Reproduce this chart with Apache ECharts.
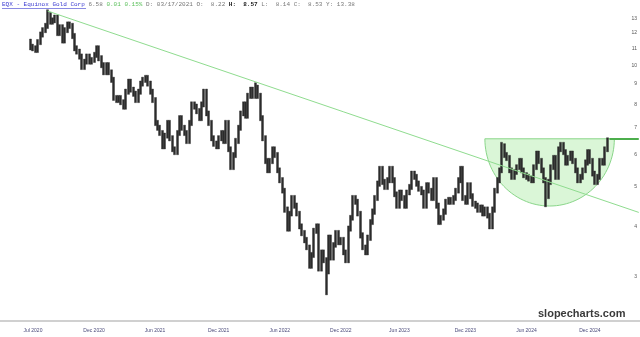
<!DOCTYPE html>
<html><head><meta charset="utf-8">
<script src="https://cdn.jsdelivr.net/npm/echarts@6/dist/echarts.min.js"></script>
<style>html,body{margin:0;padding:0;background:#fff}#c{width:640px;height:337px}</style>
</head><body><div id="c"></div>
<script>
// weekly price ranges (low / high), EQX, from the first week of Jul 2020
const weekLows = [
10.9,10.84,10.74,10.74,11.23,11.72,12.02,12.31,12.61,12.61,
12.71,11.82,11.82,11.33,11.33,12.02,12.31,11.62,10.84,10.64,
10.34,9.75,9.75,10.05,10.05,10.05,10.15,10.44,10.24,9.85,
9.46,9.46,9.46,9.06,8.18,8.08,8.08,7.98,7.78,7.78,
8.47,8.57,8.37,8.08,8.08,8.47,8.87,9.06,8.87,8.47,
8.08,7.09,6.9,6.7,6.21,6.21,6.6,6.5,6.11,6.01,
6.01,6.7,6.9,6.7,6.4,6.4,7.09,7.78,7.58,7.29,
7.29,7.88,7.49,7.09,6.5,6.3,6.21,6.21,6.5,6.4,
6.4,6.11,5.52,5.52,5.91,6.4,6.9,7.49,7.39,7.39,
8.27,8.27,8.27,8.27,7.29,6.5,5.71,5.42,5.42,5.71,
5.91,5.42,5.12,4.83,4.33,3.89,3.89,4.24,4.43,4.24,
3.94,3.79,3.64,3.5,3.15,3.15,3.35,3.84,3.1,3.1,
3.25,2.71,3.05,3.3,3.3,3.55,3.6,3.6,3.4,3.25,
3.25,3.89,4.14,4.53,4.24,3.74,3.5,3.4,3.4,3.69,
4.04,4.28,4.63,5.02,5.07,4.93,4.93,5.12,5.12,4.73,
4.43,4.43,4.63,4.43,4.43,4.78,4.93,5.22,5.02,4.88,
4.78,4.43,4.43,4.83,4.63,4.63,4.43,4.04,4.04,4.14,
4.28,4.53,4.53,4.53,4.63,4.83,5.12,4.63,4.53,4.53,
4.68,4.48,4.43,4.33,4.33,4.24,4.24,4.19,3.94,3.94,
4.33,4.83,5.12,5.42,5.91,5.81,5.42,5.22,5.22,5.37,
5.52,5.42,5.27,5.22,5.17,5.12,5.12,5.52,5.71,5.42,
5.12,4.47,4.68,5.07,5.52,5.22,5.22,6.11,6.01,5.66,
5.66,5.81,5.71,5.42,5.12,5.12,5.22,5.42,5.66,5.71,
5.32,5.07,5.07,5.22,5.66,5.66,6.11
];
const weekHighs = [
11.6,11.27,11.17,11.57,12.08,12.38,12.69,13.7,13.5,13.09,
13.3,13.3,12.59,12.59,12.38,12.79,12.79,12.69,11.98,11.17,
10.96,10.66,10.35,10.66,10.66,10.45,10.76,11.17,11.17,10.56,
10.15,10.15,10.15,9.74,9.34,8.42,8.42,8.42,8.22,8.73,
9.24,9.24,8.83,8.63,8.73,9.14,9.34,9.44,9.44,9.14,
8.73,8.32,7.31,7.11,6.9,6.8,7.31,7.31,6.7,6.29,
6.9,7.51,7.51,7.11,6.9,7.31,8.12,8.12,8.02,7.82,
8.12,8.73,8.73,7.71,7.31,6.7,6.5,6.7,6.9,6.9,
7.31,7.31,6.29,6.09,6.6,7.11,7.71,8.12,8.12,8.53,
8.83,8.83,9.05,8.93,8.53,7.51,6.7,5.89,5.89,6.29,
6.29,6.09,5.58,5.28,4.97,4.47,4.36,4.77,4.77,4.57,
4.36,4.06,3.91,3.76,3.6,3.45,3.96,4.06,4.06,3.5,
3.5,3.35,3.81,3.81,3.65,3.91,3.91,3.76,3.76,3.5,
4.01,4.26,4.77,4.77,4.67,4.36,3.86,3.6,3.81,4.16,
4.42,4.77,5.18,5.63,5.63,5.23,5.28,5.63,5.63,5.28,
4.87,4.92,4.92,4.77,4.92,5.08,5.48,5.48,5.38,5.18,
5.02,4.92,5.13,5.13,4.97,5.28,5.28,4.57,4.26,4.42,
4.67,4.72,4.72,4.77,4.97,5.28,5.63,5.63,4.77,5.13,
5.13,4.82,4.62,4.57,4.52,4.52,4.47,4.47,4.31,4.47,
4.97,5.28,5.58,6.45,6.4,6.09,5.99,5.58,5.53,5.68,
5.89,5.89,5.58,5.43,5.38,5.33,5.68,6.14,6.14,5.89,
5.58,5.28,5.23,5.68,5.99,5.99,6.29,6.45,6.45,6.19,
5.99,6.14,6.14,5.89,5.58,5.38,5.58,5.84,6.19,6.19,
5.89,5.48,5.38,5.89,5.89,6.29,6.62
];
const yTickValues = [3,4,5,6,7,8,9,10,11,12,13];
const xTickLabels = ['Jul 2020','Dec 2020','Jun 2021','Dec 2021','Jun 2022','Dec 2022','Jun 2023','Dec 2023','Jun 2024','Dec 2024'];
const xTickWeeks = [1,26,51,77,102,127,151,178,203,229];   // week number (from data start) of each label
// annotations (week number, price)
const trendWeeks = [7, 249];
const trendPrices = [13.6, 4.33];
const resistanceWeeks = [237, 249];
const resistancePrice = 6.58;
const cupWeeks = [186, 239];
const cupPrices = [6.58, 4.49];

const padBefore = 12, padAfter = 13;
const nWeeks = weekLows.length;
const total = padBefore + nWeeks + padAfter;
const firstWeek = new Date(Date.UTC(2020, 5, 29));
const cats = [];
for (let i = 0; i < total; i++) {
  const d = new Date(firstWeek.getTime() + (i - padBefore) * 7 * 86400000);
  cats.push(d.toISOString().slice(0, 10));
}
const wk = j => cats[j + padBefore];
const candles = cats.map((c, i) => {
  const j = i - padBefore;
  if (j < 0 || j >= nWeeks) return '-';
  return [weekLows[j], weekHighs[j], weekLows[j], weekHighs[j]];
});
const tickIdx = {};
xTickWeeks.forEach((w, k) => { tickIdx[w + padBefore] = xTickLabels[k]; });

const chart = echarts.init(document.getElementById('c'), null, {renderer: 'canvas'});
chart.setOption({
  animation: false,
  backgroundColor: '#fff',
  grid: {left: 0, right: 0, top: 0, bottom: 16, containLabel: false},
  xAxis: {
    type: 'category', data: cats, boundaryGap: true,
    axisLine: {show: true, lineStyle: {color: '#d0d0d0', width: 2}},
    axisTick: {show: false}, splitLine: {show: false},
    axisLabel: {
      interval: (i) => tickIdx[i] !== undefined,
      formatter: (v, i) => tickIdx[i] || '',
      fontSize: 5, color: '#4a4a7a', margin: 7, fontFamily: 'Liberation Sans'
    }
  },
  yAxis: {
    type: 'log', logBase: 10, min: 2.336, max: 14.48, position: 'right',
    axisLine: {show: false}, axisTick: {show: false}, splitLine: {show: false},
    axisLabel: {inside: true, customValues: yTickValues, fontSize: 5, color: '#555', margin: 3,
      formatter: v => String(Math.round(v)), fontFamily: 'Liberation Sans'}
  },
  series: [
    {
      type: 'custom', z: 1, silent: true,
      data: [[cupWeeks[0] + padBefore, cupWeeks[1] + padBefore, cupPrices[0], cupPrices[1]]],
      encode: {x: [0, 1], y: [2, 3]},
      renderItem: (params, api) => {
        const p1 = api.coord([api.value(0), api.value(2)]);
        const p2 = api.coord([api.value(1), api.value(3)]);
        const cx = (p1[0] + p2[0]) / 2, rx = (p2[0] - p1[0]) / 2, ry = p2[1] - p1[1];
        const pts = [];
        for (let k = 0; k <= 60; k++) {
          const t = Math.PI * k / 60;
          pts.push([cx + rx * Math.cos(t), p1[1] + ry * Math.sin(t)]);
        }
        return {type: 'polygon', shape: {points: pts},
          style: {fill: 'rgba(150,230,140,0.35)', stroke: '#8ad68a', lineWidth: 1}};
      }
    },
    {
      type: 'candlestick', z: 2, barWidth: 2.5, silent: true,
      data: candles,
      itemStyle: {color: '#2b2b2b', color0: '#2b2b2b', borderColor: '#2b2b2b', borderColor0: '#2b2b2b', borderWidth: 0.4},
      markLine: {
        silent: true, symbol: 'none', animation: false, label: {show: false},
        data: [
          [{coord: [wk(trendWeeks[0]), trendPrices[0]], lineStyle: {color: '#8fdc8f', width: 1, type: 'solid'}},
           {coord: [wk(trendWeeks[1]), trendPrices[1]]}],
          [{coord: [wk(resistanceWeeks[0]), resistancePrice], lineStyle: {color: '#4cae4c', width: 2, type: 'solid'}},
           {coord: [wk(resistanceWeeks[1]), resistancePrice]}]
        ]
      }
    }
  ],
  graphic: [
    {type: 'text', left: 2, top: 1, z: 10, style: {
      text: '{a|EQX - Equinox Gold Corp} {b|6.58} {g|0.01 0.15%} {b|D: 03/17/2021 O:  8.22} {k|H:  8.57} {b|L:  8.14 C:  8.53 Y: 13.38}',
      fontFamily: 'Liberation Mono', fontSize: 6,
      rich: {
        a: {fill: '#3a3ad0', fontFamily: 'Liberation Mono', fontSize: 6},
        b: {fill: '#777', fontFamily: 'Liberation Mono', fontSize: 6},
        g: {fill: '#5cc05c', fontFamily: 'Liberation Mono', fontSize: 6},
        k: {fill: '#222', fontFamily: 'Liberation Mono', fontSize: 6, fontWeight: 'bold'}
      }}},
    {type: 'line', z: 10, shape: {x1: 2, y1: 8.5, x2: 86, y2: 8.5}, style: {stroke: '#3a3ad0', lineWidth: 0.6}},
    {type: 'text', left: 538, top: 308, z: 10, style: {
      text: 'slopecharts.com', fill: '#3a3a3a', fontSize: 11, fontWeight: 'bold', fontFamily: 'Liberation Sans'}}
  ]
});
</script></body></html>
